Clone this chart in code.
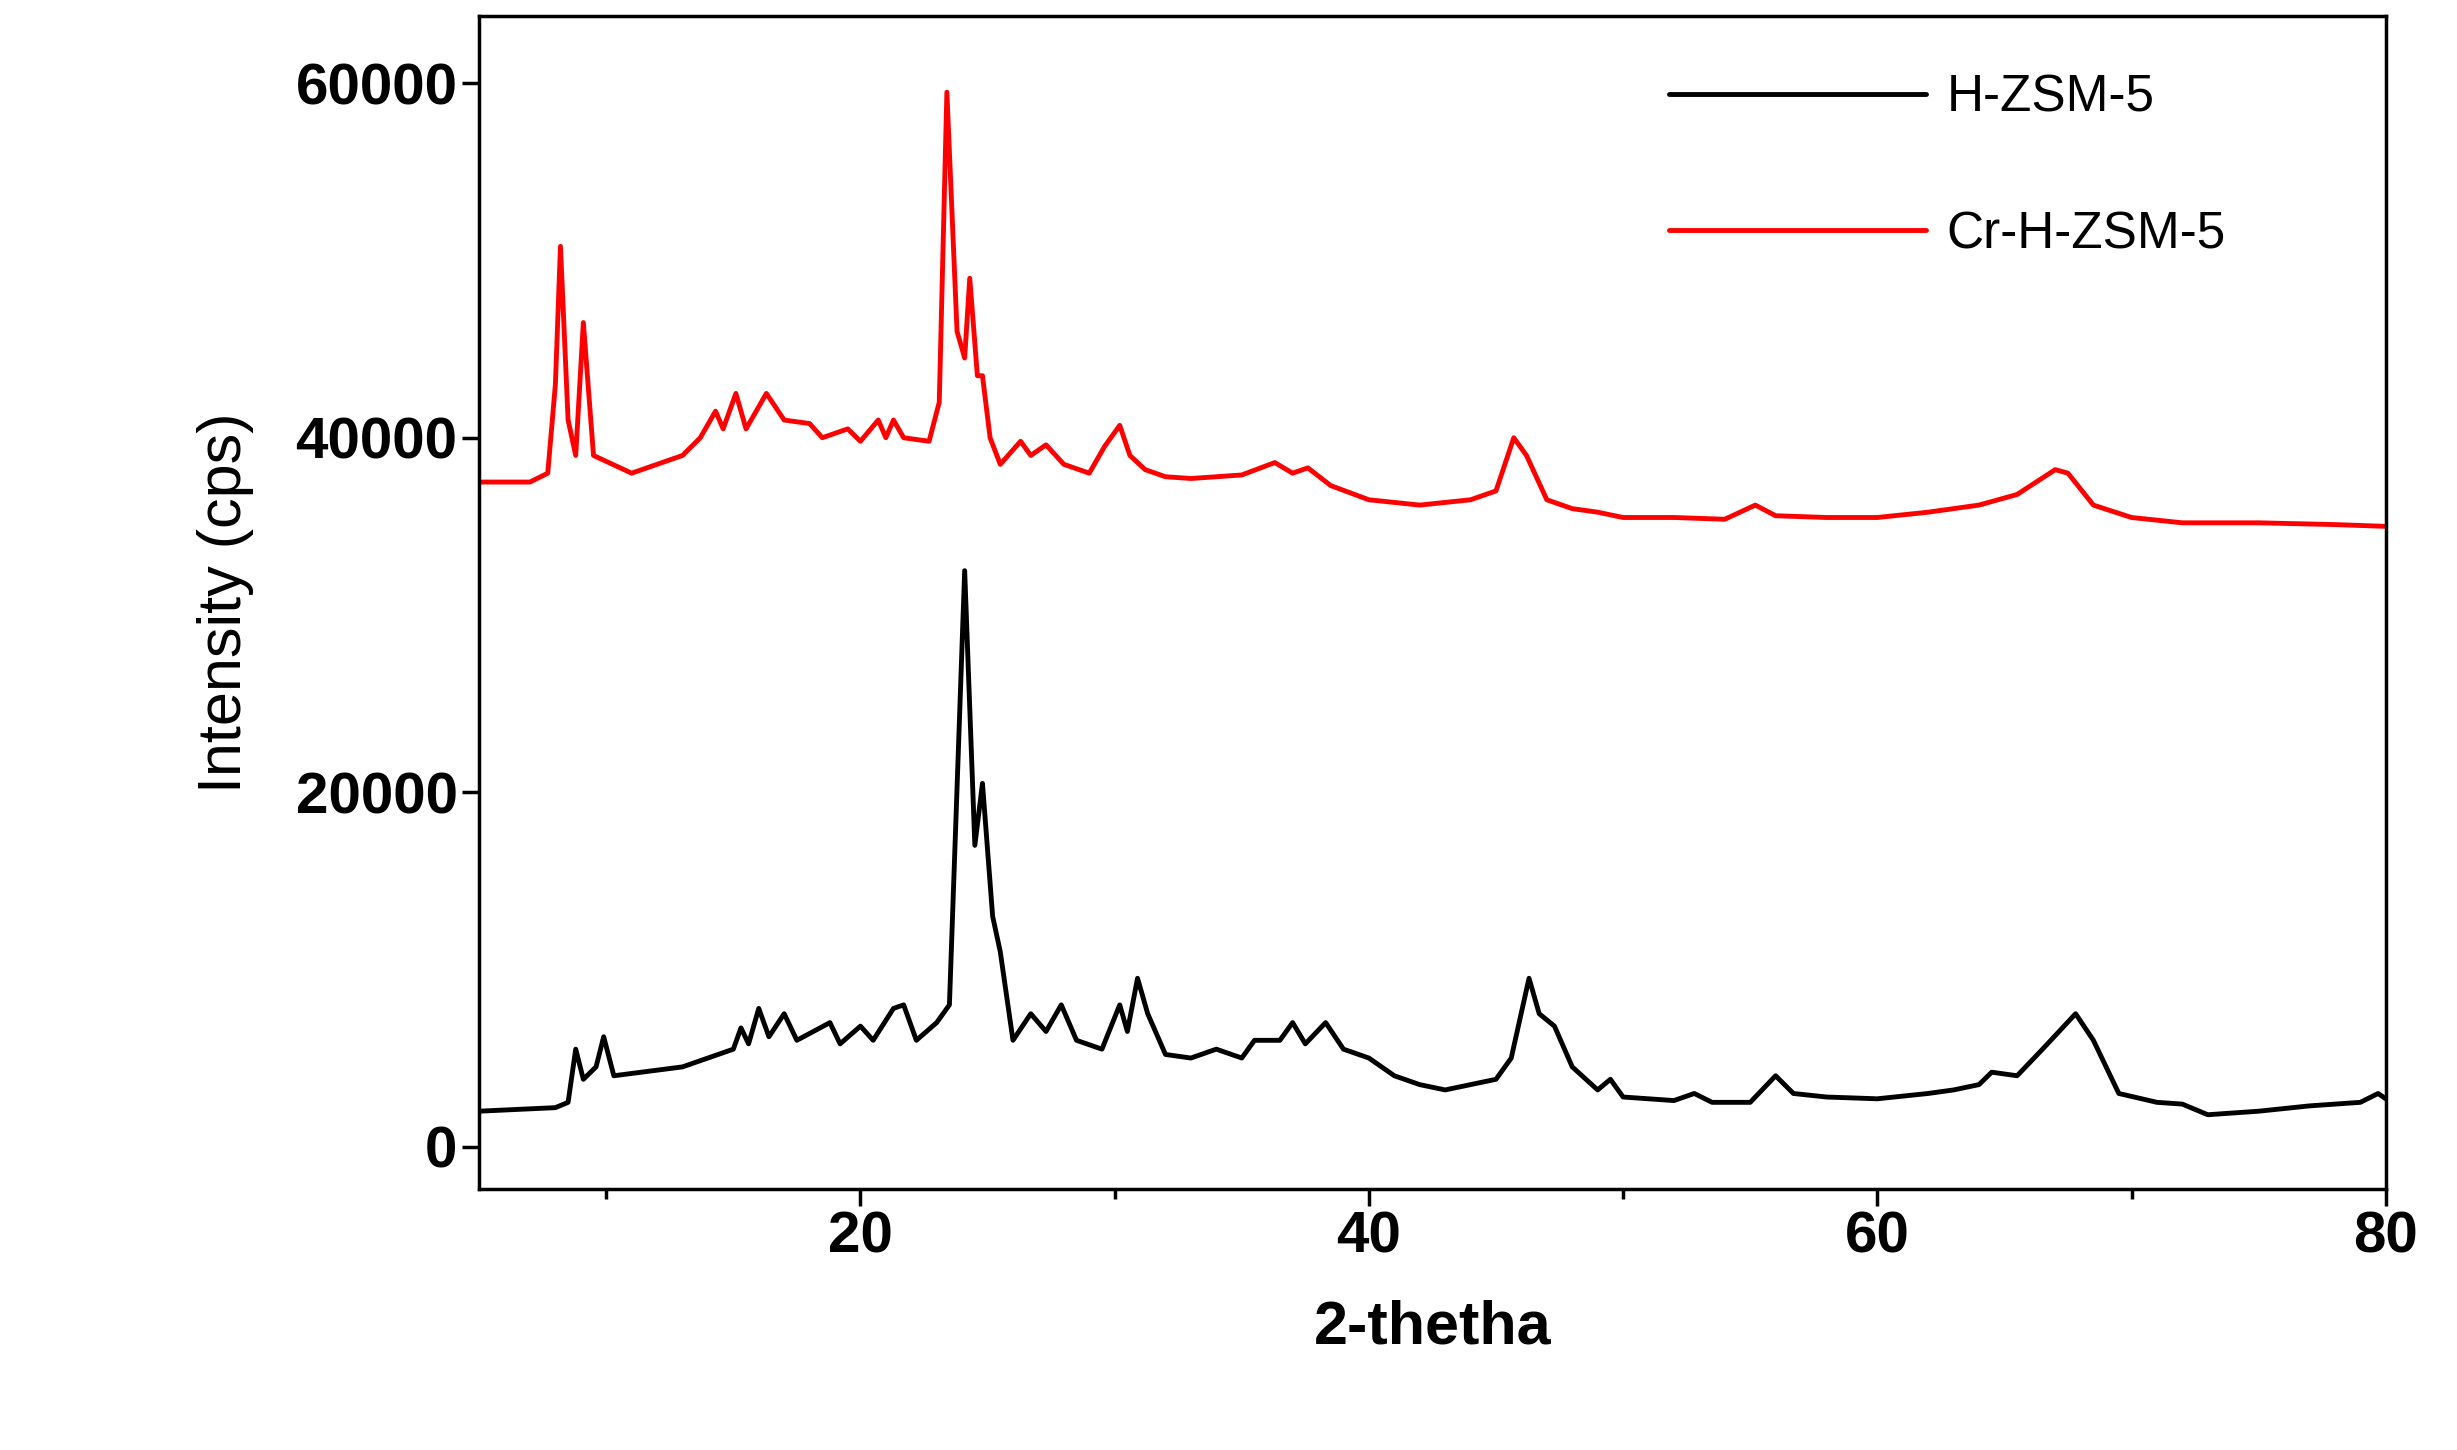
import numpy as np, pandas as pd, seaborn as sns, matplotlib
matplotlib.use("Agg")
import matplotlib.pyplot as plt

hzsm_x = [5,8,8.5,8.8,9.1,9.6,9.9,10.3,13,15,15.3,15.6,16,16.4,17,17.5,18.8,19.2,20,20.5,21.3,21.7,22.2,23,23.5,24.1,24.5,24.8,25.2,25.5,26,26.7,27.3,27.9,28.5,29.5,30.2,30.5,30.9,31.3,32,33,34,35,35.5,36.5,37,37.5,38.3,39,40,41,42,43,44,45,45.6,46.3,46.7,47.3,48,49,49.5,50,52,52.8,53.5,55,56,56.7,58,60,62,63,64,64.5,65.5,66.5,67.8,68.5,69.5,71,72,73,75,77,79,79.7,80]
hzsm_y = [2000,2200,2500,5500,3800,4500,6200,4000,4500,5500,6700,5800,7800,6200,7500,6000,7000,5800,6800,6000,7800,8000,6000,7000,8000,32500,17000,20500,13000,11000,6000,7500,6500,8000,6000,5500,8000,6500,9500,7500,5200,5000,5500,5000,6000,6000,7000,5800,7000,5500,5000,4000,3500,3200,3500,3800,5000,9500,7500,6800,4500,3200,3800,2800,2600,3000,2500,2500,4000,3000,2800,2700,3000,3200,3500,4200,4000,5500,7500,6000,3000,2500,2400,1800,2000,2300,2500,3000,2700]
cr_x = [5,7,7.7,8.0,8.2,8.5,8.8,9.1,9.5,11,13,13.7,14.3,14.6,15.1,15.5,16.3,17,18,18.5,19.5,20,20.7,21,21.3,21.7,22.7,23.1,23.4,23.8,24.1,24.3,24.6,24.8,25.1,25.5,26.3,26.7,27.3,28,29,29.6,30.2,30.6,31.2,32,33,35,36.3,37,37.6,38.5,40,42,44,45,45.7,46.2,47,48,49,50,52,54,55.2,56,58,60,62,64,65.5,67,67.5,68.5,70,72,75,78,80]
cr_y = [37500,37500,38000,43000,50800,41000,39000,46500,39000,38000,39000,40000,41500,40500,42500,40500,42500,41000,40800,40000,40500,39800,41000,40000,41000,40000,39800,42000,59500,46000,44500,49000,43500,43500,40000,38500,39800,39000,39600,38500,38000,39500,40700,39000,38200,37800,37700,37900,38600,38000,38300,37300,36500,36200,36500,37000,40000,39000,36500,36000,35800,35500,35500,35400,36200,35600,35500,35500,35800,36200,36800,38200,38000,36200,35500,35200,35200,35100,35000]
xticks = [20,40,60,80]
yticks = [0,20000,40000,60000]

df = pd.concat([pd.DataFrame({"x":hzsm_x,"y":hzsm_y,"s":"H-ZSM-5"}),
                pd.DataFrame({"x":cr_x,"y":cr_y,"s":"Cr-H-ZSM-5"})])
sns.set_style("ticks")
plt.rcParams['font.family'] = ['Liberation Sans','DejaVu Sans']
plt.rcParams['text.color'] = 'black'
fig = plt.figure(figsize=(24.57,14.5), dpi=100)
ax = fig.add_axes([0.195,0.18,0.776,0.809])
sns.lineplot(data=df, x="x", y="y", hue="s", palette={"H-ZSM-5":"black","Cr-H-ZSM-5":"red"},
             lw=3.5, ax=ax, sort=False, estimator=None)
ax.set_xlim(5,80); ax.set_ylim(-2390,63800)
ax.set_xticks(xticks); ax.set_xticks([10,30,50,70], minor=True)
ax.set_yticks(yticks)
ax.tick_params(labelsize=42, width=2.5, length=12, direction='out', colors='black')
ax.tick_params(which='minor', width=2.5, length=7, colors='black')
for l in ax.get_xticklabels()+ax.get_yticklabels(): l.set_fontweight('bold')
for s in ax.spines.values(): s.set_linewidth(2.5); s.set_color('black')
ax.set_xlabel("2-thetha", fontsize=44, fontweight='bold', labelpad=25, color='black')
ax.set_ylabel("Intensity (cps)", fontsize=44, labelpad=30, color='black')
leg = ax.legend(loc='upper left', bbox_to_anchor=(0.6,0.99), frameon=False, fontsize=37,
          handlelength=5.0, labelspacing=1.7, handletextpad=0.4)
for t in leg.get_texts(): t.set_color('black')
fig.savefig("out.png", dpi=100)
